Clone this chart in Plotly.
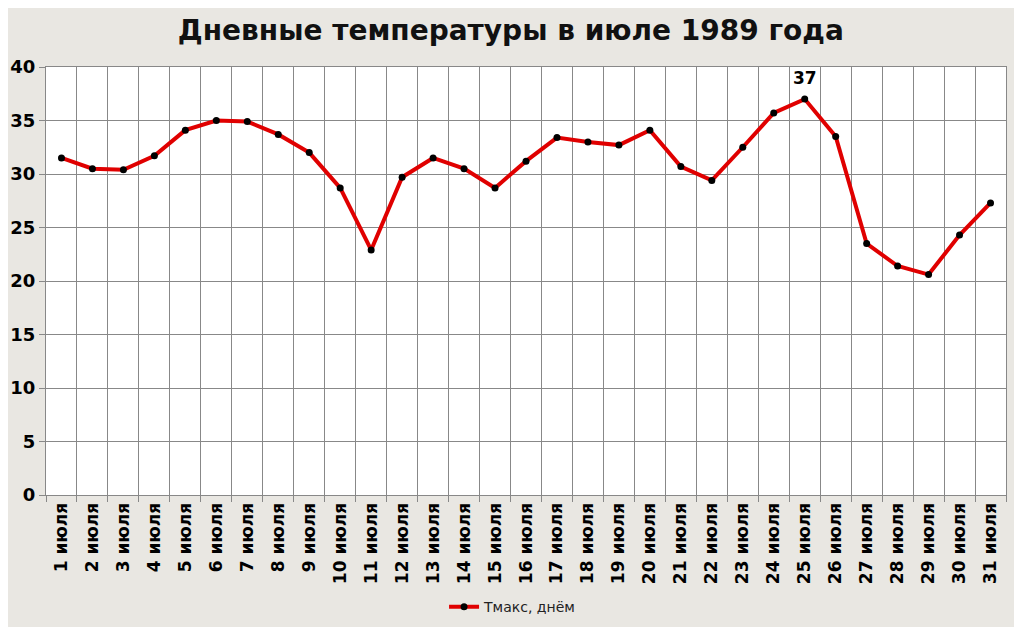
import plotly.graph_objects as go

days = [f"{i} июля" for i in range(1, 32)]
temps = [31.5, 30.5, 30.4, 31.7, 34.1, 35.0, 34.9, 33.7, 32.0, 28.7,
         22.9, 29.7, 31.5, 30.5, 28.7, 31.2, 33.4, 33.0, 32.7, 34.1,
         30.7, 29.4, 32.5, 35.7, 37.0, 33.5, 23.5, 21.4, 20.6, 24.3, 27.3]
series_name = "Тмакс, днём"
title_text = "Дневные температуры в июле 1989 года"
y_ticks = [0, 5, 10, 15, 20, 25, 30, 35, 40]

fig = go.Figure()
fig.add_trace(go.Scatter(
    x=days, y=temps, mode="lines+markers", name=series_name,
    line=dict(color="#e00000", width=4),
    marker=dict(color="#000000", size=7),
))
imax = temps.index(max(temps))
fig.add_annotation(x=days[imax], y=temps[imax], text=f"<b>{temps[imax]:g}</b>",
                   showarrow=False, yshift=21,
                   font=dict(size=17, color="#000", family="DejaVu Sans"))

fig.update_layout(
    width=1022, height=627,
    margin=dict(l=38, r=24, t=59, b=140),
    paper_bgcolor="#e9e7e2",
    plot_bgcolor="#ffffff",
    title=dict(text=f"<b>{title_text}</b>", x=0.492, xanchor="center", y=0.965,
               yanchor="middle", font=dict(size=28, color="#111", family="DejaVu Sans")),
    showlegend=True,
    legend=dict(orientation="h", x=0.486, xanchor="center", y=-0.262, yanchor="middle",
                bgcolor="rgba(0,0,0,0)", font=dict(size=14, color="#222", family="DejaVu Sans")),
    font=dict(family="DejaVu Sans"),
)
fig.update_xaxes(
    type="category", range=[-0.5, len(days) - 0.5], automargin=False,
    tickson="boundaries", ticks="outside", ticklen=6, tickcolor="#888",
    showgrid=True, gridcolor="#888", gridwidth=1,
    showline=True, linecolor="#888", mirror=True,
    tickangle=-90, tickfont=dict(size=17, color="#000", family="DejaVu Sans", weight="bold"),
)
fig.update_yaxes(
    range=[0, 40], tickvals=y_ticks, ticks="outside", ticklen=6, tickcolor="#888",
    automargin=False,
    showgrid=True, gridcolor="#888", gridwidth=1,
    showline=True, linecolor="#888", mirror=True, zeroline=False,
    tickfont=dict(size=18, color="#000", family="DejaVu Sans", weight="bold"),
)
fig.write_html("out.html")
